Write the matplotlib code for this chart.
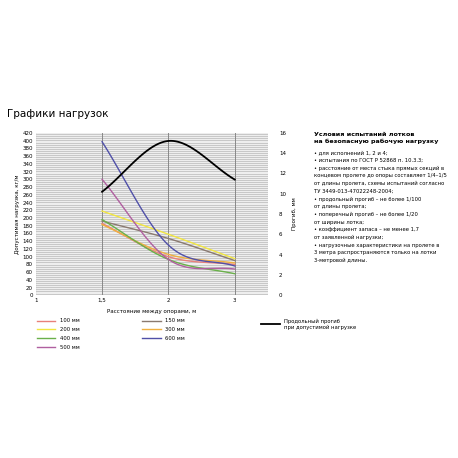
import numpy as np
import matplotlib
matplotlib.use("Agg")
import matplotlib.pyplot as plt

x_labels = ["1", "1,5", "2", "3"]
x_idx = [1, 2, 3]
series_names = ["100 мм", "150 мм", "200 мм", "300 мм", "400 мм", "600 мм", "500 мм"]
series_vals = {
    "100 мм": [186, 100, 80],
    "150 мм": [192, 147, 90],
    "200 мм": [218, 158, 95],
    "300 мм": [183, 106, 84],
    "400 мм": [196, 93, 56],
    "500 мм": [300, 93, 68],
    "600 мм": [397, 130, 76],
}
series_colors = {
    "100 мм": "#e8807a", "150 мм": "#8a7a70", "200 мм": "#f2e640",
    "300 мм": "#f0b040", "400 мм": "#6ab04a", "500 мм": "#b060a0", "600 мм": "#5050a8",
}
deflection = [10.2, 15.2, 11.4]

def smooth(xs, ys, n=40):
    xs = np.asarray(xs, float); ys = np.asarray(ys, float)
    px = np.concatenate([[2*xs[0]-xs[1]], xs, [2*xs[-1]-xs[-2]]])
    py = np.concatenate([[2*ys[0]-ys[1]], ys, [2*ys[-1]-ys[-2]]])
    ox, oy = [], []
    for i in range(1, len(px)-2):
        t = np.linspace(0, 1, n)
        for arr, out in ((px, ox), (py, oy)):
            p0, p1, p2, p3 = arr[i-1], arr[i], arr[i+1], arr[i+2]
            out.extend(0.5*((2*p1) + (-p0+p2)*t + (2*p0-5*p1+4*p2-p3)*t**2 + (-p0+3*p1-3*p2+p3)*t**3))
    return ox, oy

fig = plt.figure(figsize=(4.58, 4.58), dpi=100)
fig.text(0.015, 0.745, "Графики нагрузок", fontsize=7.5)
ax = fig.add_axes([0.078, 0.355, 0.507, 0.355])
ax.set_facecolor("#c8c8c8")
for y in range(0, 421, 5):
    ax.axhline(y, color="white", lw=0.5, zorder=0)
for xi in x_idx:
    ax.axvline(xi, color="#888888", lw=0.7, zorder=1)
ax.set_xlim(0, 3.5)
ax.set_ylim(0, 420)
ax.set_yticks(range(0, 421, 20))
ax.set_xticks(range(4))
ax.set_xticklabels(x_labels)
ax.tick_params(labelsize=4, length=0, pad=2)
ax.set_xlabel("Расстояние между опорами, м", fontsize=4)
ax.set_ylabel("Допустимая нагрузка, кг/м", fontsize=4, labelpad=2)
for s in ax.spines.values():
    s.set_visible(False)
handles = {}
for name in series_names:
    sx, sy = smooth(x_idx, series_vals[name])
    handles[name], = ax.plot(sx, sy, color=series_colors[name], lw=1.0, zorder=3, label=name)
ax2 = ax.twinx()
ax2.set_ylim(0, 16)
ax2.set_yticks(range(0, 17, 2))
ax2.tick_params(labelsize=4, length=0, pad=8)
ax2.set_ylabel("Прогиб, мм", fontsize=4)
for s in ax2.spines.values():
    s.set_visible(False)
sx, sy = smooth(x_idx, deflection)
hd, = ax2.plot(sx, sy, color="black", lw=1.3, label="Продольный прогиб\nпри допустимой нагрузке")

order = ["100 мм", "200 мм", "400 мм", "500 мм", "150 мм", "300 мм", "600 мм"]
fig.legend([handles[n] for n in order[:4]], order[:4], loc="upper left",
           bbox_to_anchor=(0.07, 0.315), fontsize=3.8, frameon=False, handlelength=3.5, labelspacing=0.7)
fig.legend([handles[n] for n in order[4:]], order[4:], loc="upper left",
           bbox_to_anchor=(0.3, 0.315), fontsize=3.8, frameon=False, handlelength=3.5, labelspacing=0.7)
fig.legend([hd], [hd.get_label()], loc="upper left",
           bbox_to_anchor=(0.56, 0.315), fontsize=3.8, frameon=False, handlelength=3.5)

text_title = "Условия испытаний лотков\nна безопасную рабочую нагрузку"
text_body = ("• для исполнений 1, 2 и 4;\n"
             "• испытания по ГОСТ Р 52868 п. 10.3.3;\n"
             "• расстояние от места стыка прямых секций в\n"
             "концевом пролете до опоры составляет 1/4–1/5\n"
             "от длины пролета, схемы испытаний согласно\n"
             "ТУ 3449-013-47022248-2004;\n"
             "• продольный прогиб – не более 1/100\n"
             "от длины пролета;\n"
             "• поперечный прогиб – не более 1/20\n"
             "от ширины лотка;\n"
             "• коэффициент запаса – не менее 1,7\n"
             "от заявленной нагрузки;\n"
             "• нагрузочные характеристики на пролете в\n"
             "3 метра распространяются только на лотки\n"
             "3-метровой длины.")
fig.text(0.685, 0.712, text_title, fontsize=4.6, fontweight="bold", va="top", linespacing=1.5)
fig.text(0.685, 0.672, text_body, fontsize=3.75, va="top", linespacing=1.65)
fig.savefig("out.png", dpi=100)
